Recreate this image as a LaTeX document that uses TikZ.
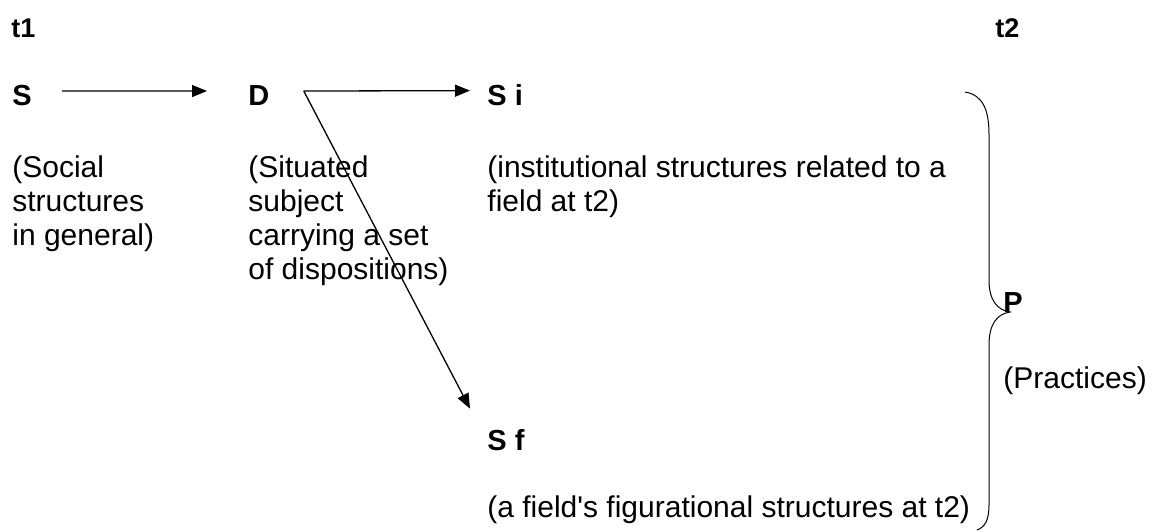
\documentclass[tikz,border=0pt]{standalone}
\usepackage{fontspec}
\setmainfont{Liberation Sans}
\usetikzlibrary{arrows.meta}

\tikzset{
  lbl/.style={font=\bfseries\fontsize{14.5}{17}\selectfont, inner sep=0pt, anchor=base west},
  tlbl/.style={font=\bfseries\fontsize{13.5}{16}\selectfont, inner sep=0pt, anchor=base west},
  desc/.style={font=\fontsize{15}{17}\selectfont, inner sep=0pt, anchor=base west},
  arr/.style={-{Triangle[length=7.5pt,width=6pt]}, line width=0.65pt},
}
\newcommand{\lines}[1]{\begin{tabular}[t]{@{}l@{}}#1\end{tabular}}

\begin{document}
\begin{tikzpicture}[x=0.5pt, y=-0.5pt]
    \useasboundingbox (0,0) rectangle (1154,531);

    % zeitpunkte
    \node[tlbl] (t1) at (11,37) {t1};
    \node[tlbl] (t2) at (995,37) {t2};

    % strukturen
    \node[lbl] (s)  at (12,105)  {S};
    \node[lbl] (d)  at (248,105) {D};
    \node[lbl] (si) at (487,105) {S i};
    \node[lbl] (sf) at (487,450) {S f};
    \node[lbl] (p)  at (1003,312) {P};

    % erlaeuterungen
    \node[desc] (sdesc)  at (12,177)  {\lines{(Social\\structures\\in general)}};
    \node[desc] (ddesc)  at (248,177) {\lines{(Situated\\subject\\carrying a set\\of dispositions)}};
    \node[desc] (sidesc) at (487,177) {\lines{(institutional structures related to a\\field at t2)}};
    \node[desc] (sfdesc) at (487,517) {(a field\textquotesingle s figurational structures at t2)};
    \node[desc] (pdesc)  at (1003,388) {(Practices)};

    % pfeile
    \coordinate (dout) at ([shift={(34,-4)}]d.east);
    \draw[arr, shorten <=15pt, shorten >=20.5pt] ([yshift=2pt]s.east) -- ([yshift=2pt]d.west);
    \draw[arr] (dout) -- ([shift={(-17,-4)}]si.west);
    \draw[arr] (dout) -- ([shift={(-17,-20)}]sf.north west);

    % klammer
    \draw[line width=0.5pt] (965,92) .. controls (983,95) and (989,110) .. (989,135)
        -- (989,280) .. controls (989,300) and (997,310) .. (1010,312)
        .. controls (997,314) and (989,324) .. (989,345)
        -- (989,505) .. controls (989,520) and (985,527) .. (977,530);
\end{tikzpicture}
\end{document}
